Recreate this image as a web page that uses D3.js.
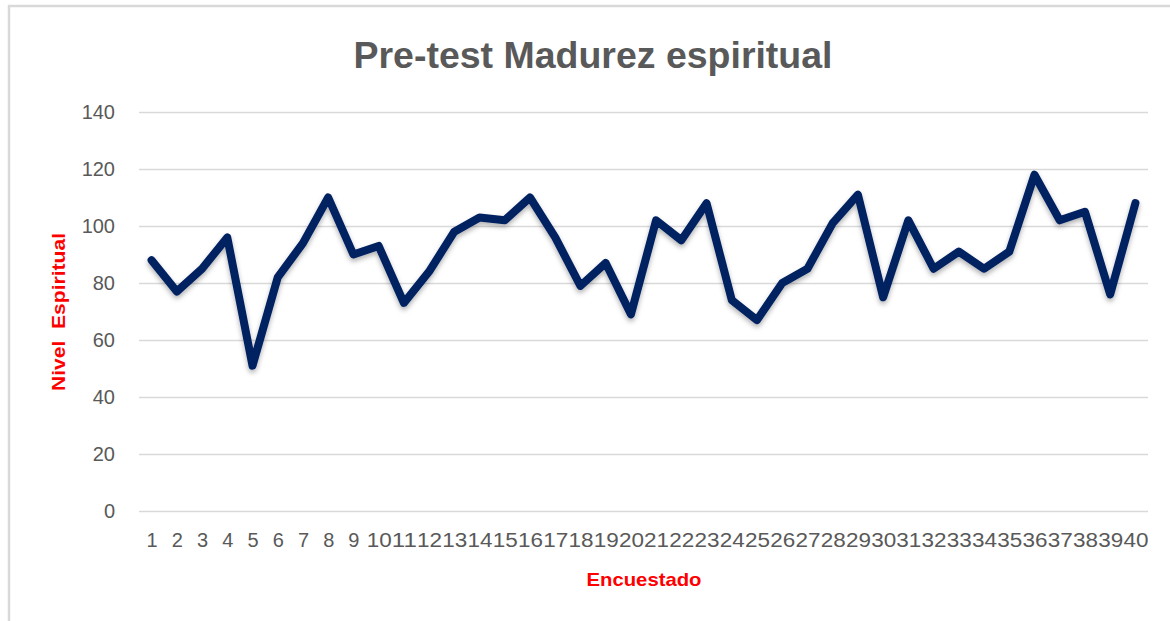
<!DOCTYPE html>
<html lang="es">
<head>
<meta charset="utf-8">
<title>Pre-test Madurez espiritual</title>
<script src="https://cdn.jsdelivr.net/npm/d3@7"></script>
<style>
  body { margin: 0; background: #fff; }
  svg { display: block; font-family: "Liberation Sans", Arial, sans-serif; }
</style>
</head>
<body>
<script>
// datos
var encuestados = d3.range(1, 41).map(String);
var nivel = [88, 77, 85, 96, 51, 82, 94, 110, 90, 93,
             73, 84, 98, 103, 102, 110, 96, 79, 87, 69,
             102, 95, 108, 74, 67, 80, 85, 101, 111, 75,
             102, 85, 91, 85, 91, 118, 102, 105, 76, 108];
var yTicks = [0, 20, 40, 60, 80, 100, 120, 140];

var w = 1170, h = 621;
var margin = {left: 139, right: 22, top: 112, bottom: 110};

var svg = d3.select("body").append("svg")
    .attr("width", w)
    .attr("height", h);

// sombra de la linea
var defs = svg.append("defs");
var f = defs.append("filter").attr("id", "sombra")
    .attr("x", "-5%").attr("y", "-10%").attr("width", "110%").attr("height", "130%");
f.append("feDropShadow")
    .attr("dx", 0).attr("dy", 3).attr("stdDeviation", 2.5)
    .attr("flood-color", "#000").attr("flood-opacity", 0.3);

// marco del area del grafico
svg.append("rect")
    .attr("x", 9).attr("y", 6)
    .attr("width", w + 10).attr("height", h + 10)
    .attr("fill", "none")
    .attr("stroke", "#d9d9d9")
    .attr("stroke-width", 2.5);

var x = d3.scalePoint()
    .domain(encuestados)
    .range([margin.left, w - margin.right])
    .padding(0.5);

var y = d3.scaleLinear()
    .domain([0, 140])
    .range([h - margin.bottom, margin.top]);

// lineas de cuadricula + etiquetas eje y
var yAxis = svg.append("g")
    .attr("transform", "translate(" + margin.left + ",0)")
    .call(d3.axisLeft(y).tickValues(yTicks)
        .tickSize(-(w - margin.left - margin.right))
        .tickPadding(24));
yAxis.select(".domain").remove();
yAxis.selectAll(".tick line")
    .attr("stroke", "#d9d9d9")
    .attr("stroke-width", 1.5);
yAxis.selectAll(".tick text")
    .attr("fill", "#595959")
    .style("font-size", "20px")
    .style("font-family", "Liberation Sans, Arial, sans-serif");

// etiquetas eje x
var xAxis = svg.append("g")
    .attr("transform", "translate(0," + (h - margin.bottom) + ")")
    .call(d3.axisBottom(x).tickSize(0).tickPadding(22));
xAxis.select(".domain").remove();
xAxis.selectAll(".tick text")
    .attr("fill", "#595959")
    .style("font-size", "20px")
    .style("font-family", "Liberation Sans, Arial, sans-serif")
    .each(function(d) {
        if (d.length > 1) {
            d3.select(this).attr("textLength", 25).attr("lengthAdjust", "spacingAndGlyphs");
        }
    });

// linea de datos
var line = d3.line()
    .x(function(d, i) { return x(encuestados[i]); })
    .y(function(d) { return y(d); });

svg.append("path")
    .datum(nivel)
    .attr("d", line)
    .attr("fill", "none")
    .attr("stroke", "#002060")
    .attr("stroke-width", 8)
    .attr("stroke-linejoin", "round")
    .attr("stroke-linecap", "round")
    .attr("filter", "url(#sombra)");

// titulo
svg.append("text")
    .attr("x", 593).attr("y", 68)
    .attr("text-anchor", "middle")
    .attr("fill", "#595959")
    .style("font-size", "37px")
    .style("font-weight", "bold")
    .attr("textLength", 479)
    .attr("lengthAdjust", "spacingAndGlyphs")
    .text("Pre-test Madurez espiritual");

// titulos de ejes
svg.append("text")
    .attr("transform", "translate(65,312) rotate(-90)")
    .attr("text-anchor", "middle")
    .attr("fill", "#ff0000")
    .style("font-size", "19px")
    .style("font-weight", "bold")
    .attr("textLength", 158)
    .attr("lengthAdjust", "spacingAndGlyphs")
    .attr("xml:space", "preserve")
    .text("Nivel  Espiritual");

svg.append("text")
    .attr("x", 644).attr("y", 586)
    .attr("text-anchor", "middle")
    .attr("fill", "#ff0000")
    .style("font-size", "19px")
    .style("font-weight", "bold")
    .attr("textLength", 115)
    .attr("lengthAdjust", "spacingAndGlyphs")
    .text("Encuestado");
</script>
</body>
</html>
